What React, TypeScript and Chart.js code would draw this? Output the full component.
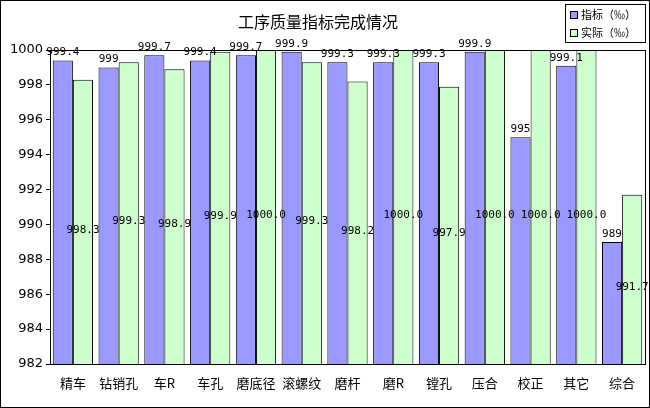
import React, { useEffect, useRef } from "react";
import { Chart, registerables } from "chart.js";
Chart.register(...registerables);

const categories = ["精车", "钻销孔", "车R", "车孔", "磨底径", "滚螺纹", "磨杆", "磨R", "镗孔", "压合", "校正", "其它", "综合"];
const targetValues = [999.4, 999, 999.7, 999.4, 999.7, 999.9, 999.3, 999.3, 999.3, 999.9, 995, 999.1, 989];
const actualValues = [998.3, 999.3, 998.9, 999.9, 1000, 999.3, 998.2, 1000, 997.9, 1000, 1000, 1000, 991.7];
const targetLabels = ["999.4", "999", "999.7", "999.4", "999.7", "999.9", "999.3", "999.3", "999.3", "999.9", "995", "999.1", "989"];
const actualLabels = ["998.3", "999.3", "998.9", "999.9", "1000.0", "999.3", "998.2", "1000.0", "997.9", "1000.0", "1000.0", "1000.0", "991.7"];
const seriesNames = ["指标（‰）", "实际（‰）"];
const colors = ["#9999FF", "#CCFFCC"];

export default function App() {
  const ref = useRef<HTMLCanvasElement>(null);
  useEffect(() => {
    document.body.style.margin = "0";
    const deco = {
      id: "deco",
      afterDraw(chart: any) {
        const ctx = chart.ctx;
        const a = chart.chartArea;
        ctx.save();
        ctx.strokeStyle = "#000";
        ctx.lineWidth = 1;
        ctx.strokeRect(a.left + 0.5, a.top + 0.5, a.right - a.left, a.bottom - a.top);
        ctx.strokeRect(0.5, 0.5, chart.width - 1, chart.height - 1);
        ctx.fillStyle = "#000";
        ctx.font = "16px 'Noto Sans CJK SC'";
        ctx.textAlign = "center";
        ctx.textBaseline = "middle";
        ctx.fillText("工序质量指标完成情况", 318, 22);
        ctx.strokeRect(565.5, 4.5, 80, 38);
        ctx.font = "11px 'Noto Sans CJK SC'";
        ctx.textAlign = "left";
        seriesNames.forEach((n, i) => {
          const y = 15 + i * 18;
          ctx.fillStyle = colors[i];
          ctx.fillRect(570, y - 4, 8, 8);
          ctx.strokeRect(570.5, y - 3.5, 7, 7);
          ctx.fillStyle = "#000";
          ctx.fillText(n, 581, y);
        });
        ctx.font = "11px 'DejaVu Sans Mono'";
        ctx.textAlign = "center";
        const bottom = chart.scales.y.bottom;
        const m0 = chart.getDatasetMeta(0).data;
        const m1 = chart.getDatasetMeta(1).data;
        m0.forEach((el: any, i: number) => {
          ctx.fillText(targetLabels[i], el.x, el.y - 8);
        });
        m1.forEach((el: any, i: number) => {
          ctx.fillText(actualLabels[i], el.x, (el.y + bottom) / 2 + 8);
        });
        ctx.restore();
      },
    };
    const chart = new Chart(ref.current!, {
      type: "bar",
      data: {
        labels: categories,
        datasets: [
          { label: seriesNames[0], data: targetValues, backgroundColor: colors[0], borderColor: "#000", borderWidth: 1, borderSkipped: "bottom" },
          { label: seriesNames[1], data: actualValues, backgroundColor: colors[1], borderColor: "#000", borderWidth: 1, borderSkipped: "bottom" },
        ],
      },
      options: {
        animation: false,
        responsive: false,
        layout: { padding: { left: 2, top: 50, right: 5, bottom: 10 } },
        plugins: { legend: { display: false }, tooltip: { enabled: false } },
        datasets: { bar: { categoryPercentage: 0.88, barPercentage: 1 } },
        scales: {
          x: {
            grid: { display: false },
            border: { color: "#000" },
            ticks: { color: "#000", font: { size: 13, family: "'Noto Sans CJK SC'" }, maxRotation: 0, autoSkip: false },
            afterFit: (s: any) => { s.height = 34; },
          },
          y: {
            min: 982,
            max: 1000,
            grid: { drawOnChartArea: false, drawTicks: true, tickLength: 4, color: "#000" },
            border: { color: "#000" },
            ticks: { stepSize: 2, color: "#000", font: { size: 13, family: "'DejaVu Sans'" }, callback: (v: any) => String(v) },
            afterFit: (s: any) => { s.width = 48; },
          },
        },
      },
      plugins: [deco],
    });
    return () => chart.destroy();
  }, []);
  return <canvas ref={ref} width={650} height={408} style={{ display: "block" }} />;
}
